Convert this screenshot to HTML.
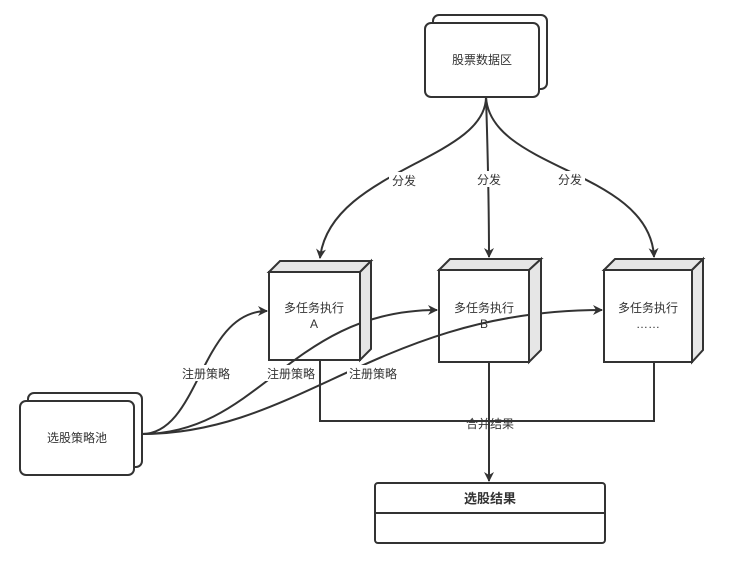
<!DOCTYPE html>
<html><head><meta charset="utf-8"><style>
html,body{margin:0;padding:0;background:#fff;}
svg{display:block;font-family:"Liberation Sans","Noto Sans CJK SC",sans-serif;}
</style></head><body>
<svg width="740" height="580" viewBox="0 0 740 580" xmlns="http://www.w3.org/2000/svg">
<defs><marker id="ar" markerWidth="10" markerHeight="10" refX="9" refY="5" orient="auto" markerUnits="userSpaceOnUse"><path d="M0,0 L10,5 L0,10 L3,5 Z" fill="#333"/></marker></defs>
<g fill="none" stroke="#333" stroke-width="2">
<!-- distribution -->
<path d="M486,97 C486,160 330,170 320,258" marker-end="url(#ar)"/>
<path d="M486,97 C488,160 489,200 489,257" marker-end="url(#ar)"/>
<path d="M486,97 C490,170 650,170 654,257" marker-end="url(#ar)"/>
<!-- register -->
<path d="M142,434 C200,434 200,311 267,311" marker-end="url(#ar)"/>
<path d="M142,434 C260,434 290,310 437,310" marker-end="url(#ar)"/>
<path d="M142,434 C300,434 380,310 602,310" marker-end="url(#ar)"/>
<!-- merge -->
<path d="M320,360 V421 H654 V362"/>
<path d="M489,362 V481" marker-end="url(#ar)"/>
</g>
<g stroke="#333" stroke-width="2" fill="#fff">
<rect x="433" y="15" width="114" height="74" rx="6"/>
<rect x="425" y="23" width="114" height="74" rx="6"/>
<rect x="28" y="393" width="114" height="74" rx="6"/>
<rect x="20" y="401" width="114" height="74" rx="6"/>
<rect x="375" y="483" width="230" height="60" rx="3"/>
<line x1="375" y1="513" x2="605" y2="513"/>
<!-- A -->
<path d="M269,272 L280,261 L371,261 L360,272 Z" fill="#e6e6e6"/>
<path d="M360,272 L371,261 L371,349 L360,360 Z" fill="#e6e6e6"/>
<rect x="269" y="272" width="91" height="88" fill="none"/>
<!-- B -->
<path d="M439,270 L450,259 L541,259 L529,270 Z" fill="#e6e6e6"/>
<path d="M529,270 L541,259 L541,350 L529,362 Z" fill="#e6e6e6"/>
<rect x="439" y="270" width="90" height="92" fill="none"/>
<!-- C -->
<path d="M604,270 L615,259 L703,259 L692,270 Z" fill="#e6e6e6"/>
<path d="M692,270 L703,259 L703,350 L692,362 Z" fill="#e6e6e6"/>
<rect x="604" y="270" width="88" height="92" fill="none"/>
</g>
<g fill="#333" font-size="12" text-anchor="middle">
<text x="482" y="64">股票数据区</text>
<text x="77" y="442">选股策略池</text>
<text x="490" y="503" font-weight="bold" font-size="13">选股结果</text>
<text x="314" y="312">多任务执行</text><text x="314" y="328">A</text>
<text x="484" y="312">多任务执行</text><text x="484" y="328">B</text>
<text x="648" y="312">多任务执行</text><text x="648" y="328">……</text>
</g>
<g font-size="12" text-anchor="middle" fill="#333">
<rect x="389" y="172" width="30" height="16" fill="#fff"/><text x="404" y="185">分发</text>
<rect x="474" y="171" width="30" height="16" fill="#fff"/><text x="489" y="184">分发</text>
<rect x="555" y="171" width="30" height="16" fill="#fff"/><text x="570" y="184">分发</text>
<rect x="180" y="365" width="52" height="16" fill="#fff"/><text x="206" y="378">注册策略</text>
<rect x="265" y="365" width="52" height="16" fill="#fff"/><text x="291" y="378">注册策略</text>
<rect x="347" y="365" width="52" height="16" fill="#fff"/><text x="373" y="378">注册策略</text>
<text x="490" y="428">合并结果</text>
</g>
</svg>
</body></html>
